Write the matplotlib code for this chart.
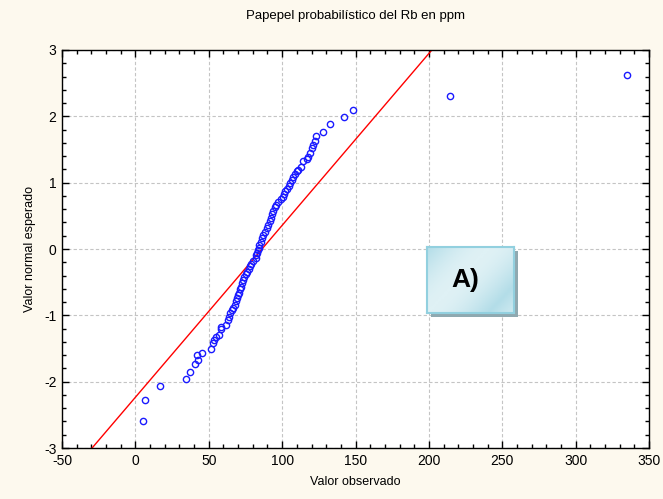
import matplotlib
matplotlib.use('Agg')
import matplotlib.pyplot as plt
import numpy as np
from matplotlib.patches import Rectangle
from matplotlib.ticker import MultipleLocator

plt.rcParams['font.family'] = ['Liberation Sans', 'DejaVu Sans']
plt.rcParams['axes.unicode_minus'] = False

observado = [5.4, 6.8, 16.6, 34.3, 37.4, 40.6, 42.5, 42.2, 45.6, 51.7,
             53.1, 53.6, 54.9, 56.8, 58.1, 58.1, 61.5, 62.9, 64.0, 64.5,
             65.6, 66.7, 67.9, 68.6, 69.3, 69.9, 70.6, 71.3, 72.0, 72.4,
             73.1, 74.0, 75.2, 76.3, 77.4, 78.1, 78.6, 80.4, 82.2, 82.2,
             83.1, 83.5, 84.0, 84.5, 85.4, 86.1, 87.2, 88.3, 89.5, 90.6,
             91.7, 92.2, 93.3, 94.0, 95.1, 95.8, 97.4, 99.0, 100.4, 101.3,
             102.0, 103.5, 104.5, 105.4, 106.5, 107.6, 108.8, 109.9, 111.0, 112.7,
             114.4, 116.7, 117.8, 119.0, 120.2, 121.2, 122.4, 122.9, 127.6, 132.4,
             142.0, 148.5, 214.4, 335.0]
esperado = [-2.59, -2.28, -2.07, -1.96, -1.85, -1.74, -1.68, -1.60, -1.57, -1.50,
            -1.42, -1.37, -1.32, -1.29, -1.20, -1.17, -1.14, -1.07, -1.02, -0.97,
            -0.92, -0.89, -0.84, -0.79, -0.74, -0.70, -0.66, -0.61, -0.57, -0.52,
            -0.47, -0.42, -0.38, -0.34, -0.30, -0.26, -0.22, -0.18, -0.14, -0.09,
            -0.06, -0.02, 0.02, 0.06, 0.11, 0.16, 0.21, 0.26, 0.31, 0.36,
            0.42, 0.47, 0.53, 0.58, 0.64, 0.67, 0.71, 0.75, 0.79, 0.83,
            0.87, 0.91, 0.95, 1.00, 1.04, 1.08, 1.13, 1.17, 1.19, 1.24,
            1.32, 1.36, 1.39, 1.45, 1.52, 1.57, 1.63, 1.70, 1.77, 1.88,
            1.99, 2.09, 2.31, 2.62]

# recta de referencia
recta_x = [-29.5, 202.0]
recta_y = [-3.0, 3.0]

fig = plt.figure(figsize=(6.63, 4.99), dpi=100, facecolor='#fdf9ee')
ax = fig.add_axes([0.0935, 0.1022, 0.8855, 0.7976])

ax.plot(recta_x, recta_y, color='#ff0000', lw=1, zorder=2)
ax.plot(observado, esperado, linestyle='none', marker='o', ms=4.5,
        mfc='none', mec='#1a1aff', mew=1, zorder=3)

ax.set_xlim(-50, 350)
ax.set_ylim(-3, 3)
ax.xaxis.set_major_locator(MultipleLocator(50))
ax.xaxis.set_minor_locator(MultipleLocator(10))
ax.yaxis.set_major_locator(MultipleLocator(1))
ax.yaxis.set_minor_locator(MultipleLocator(0.2))
ax.tick_params(which='both', direction='in', top=True, right=True,
               labelsize=10, width=1)
ax.tick_params(which='major', length=5, pad=4)
ax.tick_params(which='minor', length=3)
ax.grid(True, which='major', color='#c4c4c4', linestyle=(0, (3, 2)), lw=0.8)
ax.set_axisbelow(True)
for s in ax.spines.values():
    s.set_linewidth(1)

ax.set_title('Papepel probabilístico del Rb en ppm', fontsize=9.5, pad=22)
ax.set_xlabel('Valor observado', fontsize=9, labelpad=6)
ax.set_ylabel('Valor normal esperado', fontsize=9, labelpad=6)

# recuadro "A)"
x0, y0, w, h = 427 / 663, 1 - 313 / 499, 87 / 663, 66 / 499
fig.patches.append(Rectangle((x0 + 4 / 663, y0 - 4 / 499), w, h,
                             transform=fig.transFigure, facecolor='#8fa9b0',
                             edgecolor='none', zorder=5))
box = fig.add_axes([x0, y0, w, h], zorder=6)
gx, gy = np.meshgrid(np.linspace(0, 1, 60), np.linspace(0, 1, 40))
t = np.abs(np.sin((gx * 0.7 + gy * 0.5) * np.pi))
box.imshow(t, cmap=matplotlib.colors.LinearSegmentedColormap.from_list(
    'g', ['#b3dde8', '#dff1f5']), extent=[0, 1, 0, 1], aspect='auto')
box.set_xticks([])
box.set_yticks([])
for s in box.spines.values():
    s.set_color('#92d0df')
    s.set_linewidth(1.5)
box.text(0.44, 0.5, 'A)', fontsize=19, fontweight='bold', ha='center',
         va='center', transform=box.transAxes)

fig.savefig('out.png', dpi=100, facecolor=fig.get_facecolor())
